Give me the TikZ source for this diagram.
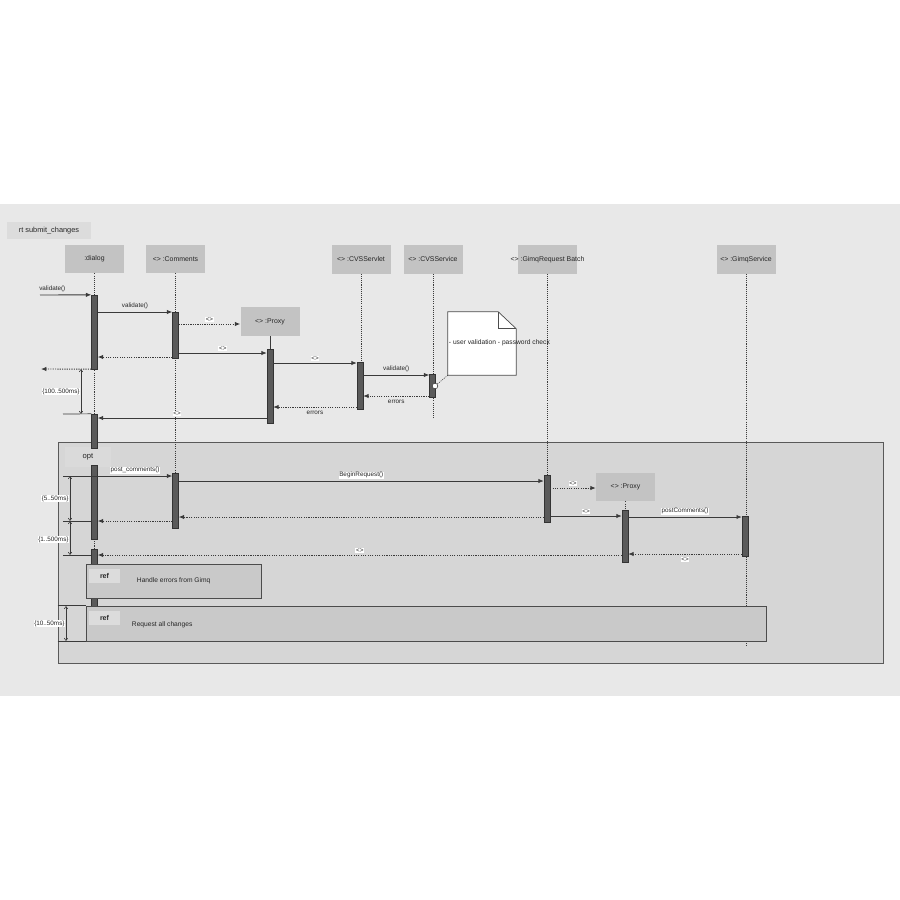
\documentclass[tikz,border=0pt]{standalone}
\usepackage{fontspec}
\setmainfont{Liberation Sans}
\usetikzlibrary{arrows.meta,calc}
\definecolor{band}{HTML}{E8E8E8}
\definecolor{optfill}{HTML}{D6D6D6}
\definecolor{optlblfill}{HTML}{DADADA}
\definecolor{headfill}{HTML}{C3C3C3}
\definecolor{reffill}{HTML}{C9C9C9}
\definecolor{tabfill}{HTML}{DCDCDC}
\definecolor{barfill}{HTML}{5A5A5A}
\definecolor{ink}{HTML}{3A3A3A}
\newcommand\actbar[4]{\node[bar, minimum height={(#4-#3)*0.03cm}] (#1) at (#2,{(#3+#4)/2}) {};}
\begin{document}
\begin{tikzpicture}[x=0.03cm,y=-0.03cm,
  every node/.style={font=\fontsize{5.4}{6}\selectfont, text=black!85, inner sep=0.6pt},
  head/.style={fill=headfill, minimum width=1.77cm, minimum height=0.85cm, inner sep=0pt},
  headtext/.style={font=\fontsize{5.9}{7}\selectfont, inner sep=0pt},
  bar/.style={fill=barfill, draw=black!80, line width=0.3pt, minimum width=0.18cm, inner sep=0pt},
  life/.style={draw=ink, line width=0.7pt, dash pattern=on 0.9pt off 0.9pt},
  msg/.style={draw=ink, line width=0.75pt, -{Latex[length=0.16cm,width=0.13cm]}},
  ret/.style={msg, dash pattern=on 1pt off 1pt},
  lbl/.style={fill=white, inner sep=0.5pt},
  dur/.style={draw=ink, line width=0.5pt, {Straight Barb[length=0.07cm,width=0.1cm]}-{Straight Barb[length=0.07cm,width=0.1cm]}},
  tick/.style={draw=ink, line width=0.6pt},
  refbox/.style={draw=black!70, fill=reffill, line width=0.6pt, inner sep=0pt},
  reftab/.style={fill=tabfill, minimum width=0.93cm, minimum height=0.42cm, inner sep=0pt, font=\fontsize{6}{7}\selectfont\bfseries}
]
% canvas
\useasboundingbox (0,0) rectangle (900,900);
\fill[white] (0,0) rectangle (900,900);
\fill[band] (0,204) rectangle (900,696);

% title
\node[fill=tabfill, minimum width=2.52cm, minimum height=0.51cm, inner sep=0pt,
      font=\fontsize{6.3}{7}\selectfont] (title) at (49,230.5) {rt submit\_changes};

% opt fragment
\node[draw=black!65, fill=optfill, line width=0.6pt, minimum width=24.75cm,
      minimum height=6.63cm, inner sep=0pt] (opt) at (470.5,552.5) {};

% lifeline heads
\node[head, label={[headtext]center::dialog}] (dialog) at (94.5,259) {};
\node[head, label={[headtext]center:<> :Comments}] (comments) at (175.5,259) {};
\node[head, label={[headtext]center:<> :Proxy}] (proxy1) at (270,321.5) {};
\node[head, label={[headtext]center:<> :CVSServlet}] (servlet) at (361,259.5) {};
\node[head, label={[headtext]center:<> :CVSService}] (cvsservice) at (433,259.5) {};
\node[head, label={[headtext]center:<> :GimqRequest Batch}] (gimqrb) at (547.5,259.5) {};
\node[head, label={[headtext]center:<> :GimqService}] (gimqsvc) at (746,259.5) {};
\node[head, label={[headtext]center:<> :Proxy}] (proxy2) at (625.5,487) {};

% lifelines
\draw[life] (dialog.south) -- (dialog.south |- 0,606);
\draw[life] (comments.south) -- (comments.south |- 0,528);
\draw[tick] (proxy1.south) -- (proxy1.south |- 0,349);
\draw[life] (servlet.south) -- (servlet.south |- 0,362);
\draw[life] (cvsservice.south) -- (cvsservice.south |- 0,418);
\draw[life] (gimqrb.south) -- (gimqrb.south |- 0,475);
\draw[life] (gimqsvc.south) -- (gimqsvc.south |- 0,646);
\draw[life] (proxy2.south) -- (proxy2.south |- 0,510);

% opt label tab (covers the dialog lifeline)
\node[fill=optlblfill, minimum width=1.4cm, minimum height=0.6cm, inner sep=0pt,
      font=\fontsize{6.5}{7}\selectfont] (optlbl) at (88,457) {opt};

% activation bars
\actbar{d1}{94.5}{295}{369}
\actbar{d2}{94.5}{414}{448}
\actbar{d3}{94.5}{465}{539}
\actbar{d4}{94.5}{549}{606}
\actbar{c1}{175.5}{312}{358}
\actbar{c2}{175.5}{473}{528}
\actbar{p1}{270}{349}{423}
\actbar{s1}{360}{362}{409}
\actbar{v1}{432.5}{374}{397}
\actbar{g1}{547}{475}{522}
\actbar{q1}{625}{510}{562}
\actbar{m1}{745}{516}{556}

% note
\node[minimum width=2.04cm, minimum height=1.89cm, inner sep=0pt] (note) at (482,343.5) {};
\draw[fill=white, draw=black!70, line width=0.6pt]
  (note.south west) -- (note.north west) -- ([xshift=-0.54cm]note.north east)
  -- ([yshift=-0.51cm]note.north east) -- (note.south east) -- cycle;
\draw[draw=black!70, line width=0.5pt]
  ([xshift=-0.54cm]note.north east) -- ([xshift=-0.54cm,yshift=-0.51cm]note.north east)
  -- ([yshift=-0.51cm]note.north east);
\node[anchor=west, font=\fontsize{5.7}{7}\selectfont] (notetext) at (448,343) {- user validation - password check};
\node[circle, draw=ink, fill=white, line width=0.5pt, minimum size=0.17cm, inner sep=0pt] (cmark) at (435,386) {};
\draw[life, line width=0.5pt] (cmark) -- (note.south west);

% messages
\coordinate (f1) at (40,295);
\draw[msg] (f1) -- (d1.north west) node[pos=0.24, above=1.5pt] {validate()};
\draw[msg] (d1.east |- 0,312) -- (c1.west |- 0,312) node[midway, above=1.5pt] {validate()};
\draw[ret] (c1.east |- 0,324) -- (proxy1.west |- 0,324) node[midway, above=1.5pt, lbl] {<>};
\draw[msg] (c1.east |- 0,353) -- (p1.west |- 0,353) node[midway, above=1.5pt, lbl] {<>};
\draw[ret] (c1.west |- 0,357) -- (d1.east |- 0,357);
\coordinate (f2) at (41,369);
\draw[ret] (d1.south west) -- (f2);
\draw[msg] (p1.east |- 0,363) -- (s1.west |- 0,363) node[midway, above=1.5pt, lbl] {<>};
\draw[msg] (s1.east |- 0,375) -- (v1.west |- 0,375) node[midway, above=1.5pt] {validate()};
\draw[ret] (v1.west |- 0,396) -- (s1.east |- 0,396) node[midway, below=2.5pt] {errors};
\draw[ret] (s1.west |- 0,407) -- (p1.east |- 0,407) node[midway, below=2.5pt] {errors};
\draw[msg] (p1.west |- 0,418) -- (d2.east |- 0,418) node[pos=0.53, above=1.5pt, lbl] {<>};

% duration constraint 1
\coordinate (h1) at (63,414);
\draw[tick] (h1) -- (d2.north west);
\draw[dur] (81,369) -- (81,414) node[midway, left=0.5pt, lbl] {\{100..500ms\}};

% messages in opt
\coordinate (f3) at (63,476);
\draw[msg] (f3) -- (c2.west |- f3) node[pos=0.66, above=1.5pt, lbl] {post\_comments()};
\draw[msg] (c2.east |- 0,481) -- (g1.west |- 0,481) node[midway, above=1.5pt, lbl] {BeginRequest()};
\draw[ret] (g1.east |- 0,488) -- (proxy2.west |- 0,488) node[midway, above=1.5pt, lbl] {<>};
\draw[ret] (g1.west |- 0,517) -- (c2.east |- 0,517);
\draw[msg] (g1.east |- 0,516) -- (q1.west |- 0,516) node[midway, above=1.5pt, lbl] {<>};
\draw[msg] (q1.east |- 0,517) -- (m1.west |- 0,517) node[midway, above=1.5pt, lbl] {postComments()};
\draw[ret] (c2.west |- 0,521) -- (d3.east |- 0,521);
\draw[ret] (m1.west |- 0,554) -- (q1.east |- 0,554) node[midway, below=2.5pt, lbl] {<>};
\draw[ret] (q1.west |- 0,555) -- (d4.east |- 0,555) node[midway, above=1.5pt, lbl] {<>};

% duration constraints 2 and 3
\coordinate (h2) at (63,521);
\coordinate (h3) at (63,555);
\draw[tick] (h2) -- (d3.west |- h2);
\draw[tick] (h3) -- (d4.west |- h3);
\draw[dur] (70,476) -- (70,521) node[midway, left=0.5pt, lbl] {\{5..50ms\}};
\draw[dur] (70,521) -- (70,555) node[pos=0.55, left=0.5pt, lbl] {\{1..500ms\}};

% ref fragments
\node[refbox, minimum width=5.25cm, minimum height=1.02cm] (ref1) at (173.5,581) {};
\node[reftab] (ref1tab) at (104.5,576) {ref};
\node[anchor=west, font=\fontsize{5.7}{7}\selectfont] (ref1text) at (136,581) {Handle errors from Gimq};
\node[refbox, minimum width=20.4cm, minimum height=1.05cm] (ref2) at (426,623.5) {};
\node[reftab] (ref2tab) at (104.5,618) {ref};
\node[anchor=west, font=\fontsize{5.7}{7}\selectfont] (ref2text) at (131,625) {Request all changes};

% duration constraint 4
\draw[tick] (opt.west |- ref2.north) -- (ref2.north west);
\draw[tick] (opt.west |- ref2.south) -- (ref2.south west);
\draw[dur] (66,606) -- (66,641) node[midway, left=0.5pt, lbl] {\{10..50ms\}};
\end{tikzpicture}
\end{document}
